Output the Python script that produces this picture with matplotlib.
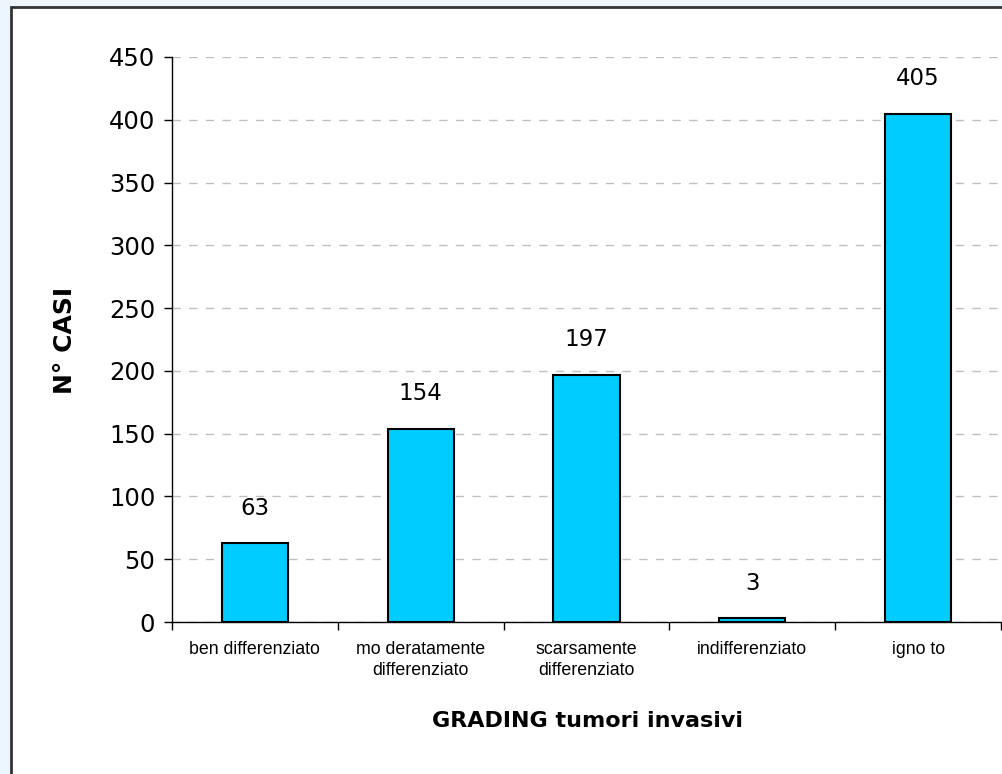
import matplotlib
matplotlib.use("Agg")
import matplotlib.pyplot as plt
from matplotlib.patches import Rectangle

categories = ["ben differenziato", "mo deratamente\ndifferenziato", "scarsamente\ndifferenziato",
              "indifferenziato", "igno to"]
values = [63, 154, 197, 3, 405]
yticks = [0, 50, 100, 150, 200, 250, 300, 350, 400, 450]

W, H = 1002, 774
fig = plt.figure(figsize=(W / 100, H / 100), dpi=100)
fig.patch.set_facecolor("#EDF6FD")

# white panel with border (left and top visible)
bg = fig.add_axes([0, 0, 1, 1], zorder=-10)
bg.set_axis_off()
bg.set_xlim(0, 1)
bg.set_ylim(0, 1)
bg.add_patch(Rectangle((11 / W, -0.1), 1.2, 0.1 + 1 - 7 / H,
                       facecolor="white", edgecolor="#333333", linewidth=2.0))

ax = fig.add_axes([172 / W, 1 - 622 / H, (1001 - 172) / W, (622 - 57) / H])
ax.set_facecolor("none")

x = list(range(len(categories)))
bars = ax.bar(x, values, width=0.4, color="#00CCFF", edgecolor="black", linewidth=1.5, zorder=3)

ax.set_xlim(-0.5, len(categories) - 0.5)
ax.set_ylim(0, 450)
ax.set_yticks(yticks)
ax.set_yticklabels([str(v) for v in yticks], fontsize=17.5, fontfamily="DejaVu Sans")
ax.yaxis.grid(True, linestyle=(0, (6, 6)), color="#BFBFBF", linewidth=1.0, zorder=0)
ax.set_axisbelow(True)

ax.set_xticks(x)
ax.set_xticklabels(categories, fontsize=12.8, fontfamily="Liberation Sans", linespacing=1.3)
ax.set_xticks([i - 0.5 for i in range(len(categories) + 1)], minor=True)
ax.tick_params(axis="x", which="major", length=0, pad=14)
ax.tick_params(axis="x", which="minor", length=6, width=1, direction="out")
ax.tick_params(axis="y", length=6, width=1, direction="out", pad=6)

for s in ["top", "right"]:
    ax.spines[s].set_visible(False)
for s in ["left", "bottom"]:
    ax.spines[s].set_linewidth(1.0)
    ax.spines[s].set_color("black")

for xi, v in zip(x, values):
    ax.annotate(str(v), (xi, v), xytext=(0, 25), textcoords="offset points",
                ha="center", va="center", fontsize=16.5, fontfamily="DejaVu Sans")

fig.text(65 / W, 1 - 340 / H, "N° CASI", rotation=90, ha="center", va="center",
         fontsize=18, fontweight="bold", fontfamily="DejaVu Sans")
fig.text(587 / W, 1 - 721 / H, "GRADING tumori invasivi", ha="center", va="center",
         fontsize=16, fontweight="bold", fontfamily="DejaVu Sans")

fig.savefig("out.png", dpi=100, facecolor=fig.get_facecolor())
